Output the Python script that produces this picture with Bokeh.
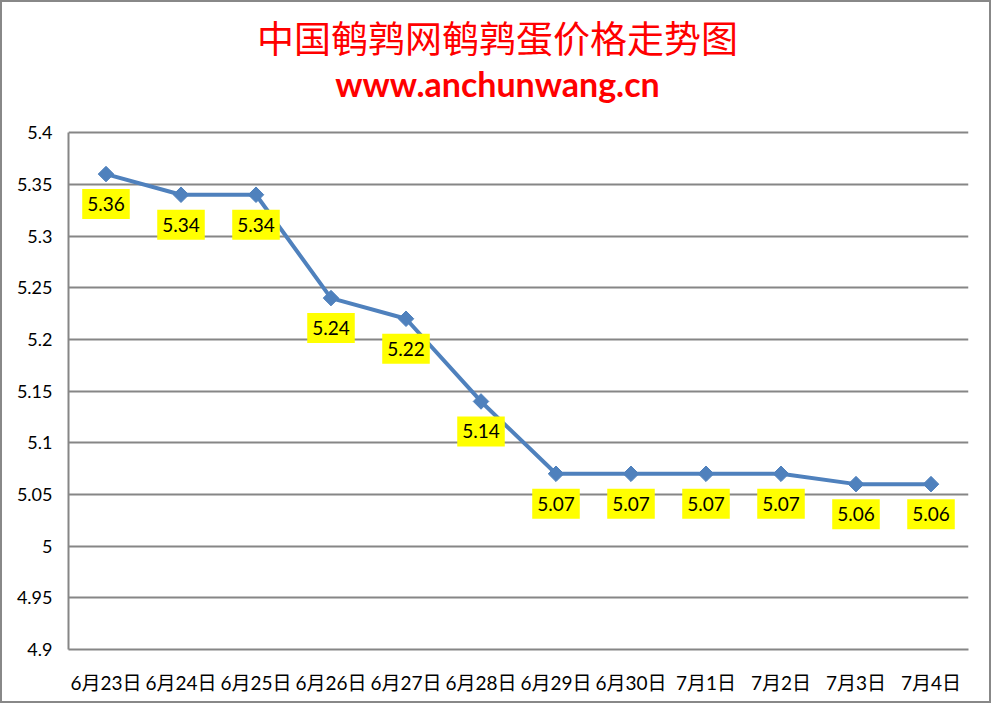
from bokeh.plotting import figure
from bokeh.models import ColumnDataSource, FixedTicker, Range1d, FactorRange, Label
from bokeh.core.properties import value
from bokeh.embed import file_html
from bokeh.resources import INLINE

categories = ["6月23日", "6月24日", "6月25日", "6月26日", "6月27日", "6月28日",
              "6月29日", "6月30日", "7月1日", "7月2日", "7月3日", "7月4日"]
prices = [5.36, 5.34, 5.34, 5.24, 5.22, 5.14, 5.07, 5.07, 5.07, 5.07, 5.06, 5.06]
price_labels = ["5.36", "5.34", "5.34", "5.24", "5.22", "5.14", "5.07", "5.07", "5.07", "5.07", "5.06", "5.06"]
y_ticks = [4.9, 4.95, 5.0, 5.05, 5.1, 5.15, 5.2, 5.25, 5.3, 5.35, 5.4]
y_tick_labels = ["4.9", "4.95", "5", "5.05", "5.1", "5.15", "5.2", "5.25", "5.3", "5.35", "5.4"]
title_text = "中国鹌鹑网鹌鹑蛋价格走势图"
subtitle_text = "www.anchunwang.cn"

FONT = "Lato, 'Noto Sans CJK SC', sans-serif"
BLUE = "#4F81BD"
GRAY = "#868686"

Y_MIN, Y_MAX = 4.9, 5.4
# extra head-room above the value axis holds the two title lines
Y_TOP = 5.526

source = ColumnDataSource(data=dict(x=categories, y=prices, lab=price_labels))

p = figure(x_range=FactorRange(*categories, range_padding=0),
           y_range=Range1d(Y_MIN, Y_TOP), title=None,
           width=991, height=703, output_backend="svg", toolbar_location=None,
           min_border_left=66, min_border_right=25, min_border_top=0, min_border_bottom=56)
p.styles = {"border": "2px solid #888888", "box-sizing": "border-box"}
p.outline_line_color = None
p.background_fill_color = "white"
p.border_fill_color = "white"

p.xgrid.grid_line_color = None
p.ygrid.grid_line_color = GRAY
p.ygrid.grid_line_width = 2
p.yaxis.ticker = FixedTicker(ticks=y_ticks)
p.yaxis.bounds = (Y_MIN, Y_MAX)
p.yaxis.major_label_overrides = {t: l for t, l in zip(y_ticks, y_tick_labels)}
p.yaxis.axis_line_color = GRAY
p.yaxis.axis_line_width = 2
p.yaxis.major_tick_line_color = None
p.yaxis.minor_tick_line_color = None
p.yaxis.major_label_text_font = FONT
p.yaxis.major_label_text_font_size = "18px"
p.yaxis.major_label_text_color = "black"
p.yaxis.major_label_standoff = 10

p.xaxis.axis_line_color = GRAY
p.xaxis.axis_line_width = 2
p.xaxis.major_tick_line_color = None
p.xaxis.minor_tick_line_color = None
p.xaxis.major_label_text_font = FONT
p.xaxis.major_label_text_font_size = "19px"
p.xaxis.major_label_text_color = "black"
p.xaxis.major_label_standoff = 15

p.line("x", "y", source=source, line_color=BLUE, line_width=4)
p.scatter("x", "y", source=source, marker="square", angle=0.785398, size=11,
          fill_color=BLUE, line_color=BLUE)

p.text("x", "y", text="lab", source=source, y_offset=30,
       text_align="center", text_baseline="middle",
       text_font=value(FONT), text_font_size="19px", text_color="black",
       background_fill_color="#FFFF00", padding=(5, 8))

p.add_layout(Label(x=5.72, y=5.4922, text=title_text,
                   text_align="center", text_baseline="middle",
                   text_font="'Noto Sans CJK SC'", text_font_size="37px", text_color="#FF0000"))
p.add_layout(Label(x=5.72, y=5.4476, text=subtitle_text,
                   text_align="center", text_baseline="middle",
                   text_font="Lato", text_font_style="bold", text_font_size="34px",
                   text_color="#FF0000"))

open("out.html", "w").write(file_html(p, INLINE))
